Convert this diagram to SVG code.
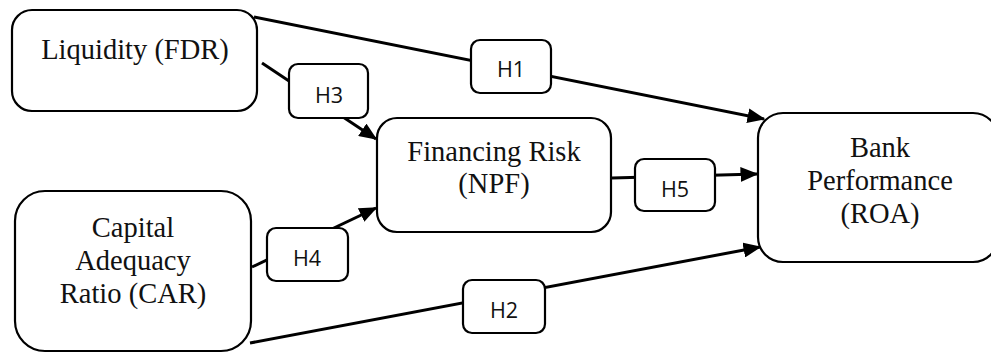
<svg xmlns="http://www.w3.org/2000/svg" width="991" height="353" viewBox="0 0 991 353">
<style>
.box{fill:#fff;stroke:#000;stroke-width:2.2}
.lbl{fill:#fff;stroke:#000;stroke-width:2.2}
.t{font-family:"Liberation Serif","Times New Roman",serif;font-size:28.5px;fill:#111;text-anchor:middle}
.h{font-family:"Open Sans","Noto Sans","DejaVu Sans",sans-serif;font-size:21.5px;fill:#111;text-anchor:middle}
.c{stroke:#000;stroke-width:3;fill:none}
</style>
<defs>
<marker id="ah" markerWidth="6" markerHeight="5" refX="5.5" refY="2.5" orient="auto" markerUnits="strokeWidth">
<path d="M0,0 L6,2.5 L0,5 Z" fill="#000"/>
</marker>
</defs>
<rect width="991" height="353" fill="#fff"/>
<g id="connectors">
<line class="c" x1="254" y1="17" x2="764" y2="119" marker-end="url(#ah)"/>
<line class="c" x1="250" y1="343" x2="760" y2="247" marker-end="url(#ah)"/>
<line class="c" x1="262" y1="63" x2="376" y2="139" marker-end="url(#ah)"/>
<line class="c" x1="252" y1="267" x2="376" y2="208" marker-end="url(#ah)"/>
<line class="c" x1="612" y1="178" x2="757" y2="174" marker-end="url(#ah)"/>
</g>
<g id="liquidity">
<rect class="box" x="12" y="10" width="245" height="101" rx="20"/>
<text class="t" x="135" y="59">Liquidity (FDR)</text>
</g>
<g id="capital">
<rect class="box" x="15" y="191" width="236" height="160" rx="30"/>
<text class="t" x="133" y="237">Capital</text>
<text class="t" x="133" y="270">Adequacy</text>
<text class="t" x="133" y="303">Ratio (CAR)</text>
</g>
<g id="financing">
<rect class="box" x="377" y="118" width="234" height="114" rx="20"/>
<text class="t" x="494" y="161">Financing Risk</text>
<text class="t" x="494" y="193">(NPF)</text>
</g>
<g id="bank">
<rect class="box" x="758" y="113" width="240" height="149" rx="25"/>
<text class="t" x="880" y="157">Bank</text>
<text class="t" x="880" y="190">Performance</text>
<text class="t" x="880" y="223">(ROA)</text>
</g>
<g id="h1">
<rect class="lbl" x="471" y="40" width="80" height="53" rx="9"/>
<text class="h" x="511" y="77">H1</text>
</g>
<g id="h2">
<rect class="lbl" x="463" y="280" width="82" height="53" rx="9"/>
<text class="h" x="504" y="318">H2</text>
</g>
<g id="h3">
<rect class="lbl" x="289" y="64" width="79" height="54" rx="9"/>
<text class="h" x="329" y="103">H3</text>
</g>
<g id="h4">
<rect class="lbl" x="267" y="228" width="81" height="53" rx="9"/>
<text class="h" x="307" y="266">H4</text>
</g>
<g id="h5">
<rect class="lbl" x="635" y="159" width="80" height="52" rx="9"/>
<text class="h" x="675" y="197">H5</text>
</g>
</svg>
